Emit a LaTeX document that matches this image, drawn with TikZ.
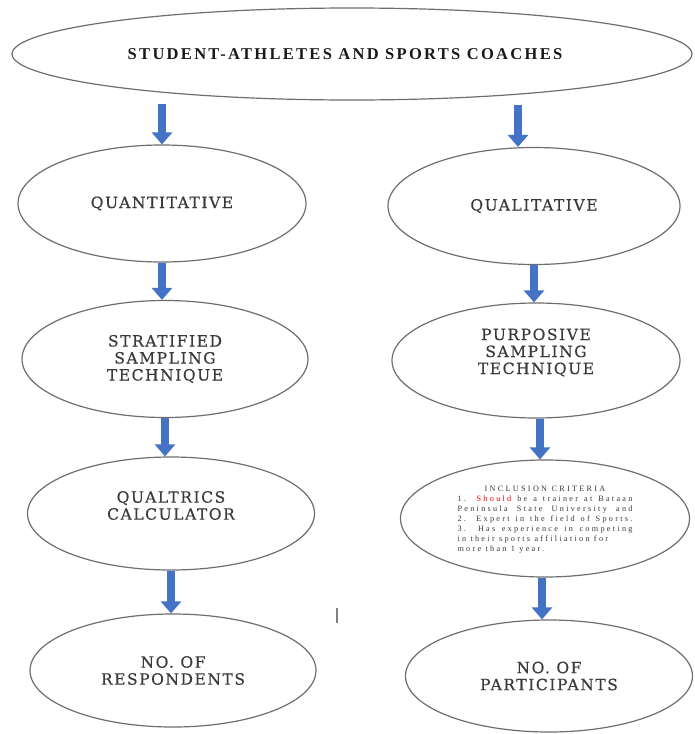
\documentclass[tikz,border=0pt]{standalone}
\usepackage{fontspec}
\setmainfont{DejaVu Serif}
\newfontfamily\topfont[LetterSpace=14,BoldFont={* Bold}]{Liberation Serif}
\newfontfamily\lblfont[LetterSpace=10,FakeBold=0.4]{DejaVu Serif}
\newfontfamily\incfont[LetterSpace=28]{Liberation Serif}
\usetikzlibrary{shapes.geometric,arrows.meta,calc}
\definecolor{arrowblue}{HTML}{4472C4}
\definecolor{edgegray}{HTML}{6E6E6E}
\definecolor{txtgray}{HTML}{3A3A3A}
\begin{document}
\begin{tikzpicture}[x=1pt,y=-1pt,
  oval/.style={ellipse, draw=edgegray, line width=1.2pt, inner sep=0pt},
  lbl/.style={font=\lblfont\fontsize{15.5}{17}\selectfont, text=txtgray, align=center, inner sep=0pt},
  toplbl/.style={font=\topfont\bfseries\fontsize{16.5}{18}\selectfont, text=black!90, inner sep=0pt},
  inclbl/.style={font=\incfont\fontsize{8.2}{10}\selectfont, text=txtgray, align=center, inner sep=0pt},
  blockarrow/.style={draw=arrowblue, line width=8pt, -{Triangle[width=20pt,length=12pt]}}
]
\fill[white] (0,0) rectangle (694,734);
\useasboundingbox (0,0) rectangle (694,734);

% ellipses
\node[oval, minimum width=680pt, minimum height=92pt] (top) at (352,54) {};
\node[toplbl] (topT) at ($(top.center)+(-7,0)$) {STUDENT-ATHLETES AND SPORTS COACHES};

\node[oval, minimum width=288pt, minimum height=117pt] (quant) at (162,203.5) {};
\node[lbl] (quantT) at (quant.center) {QUANTITATIVE};

\node[oval, minimum width=292pt, minimum height=117pt] (qual) at (534,206) {};
\node[lbl] (qualT) at (qual.center) {QUALITATIVE};

\node[oval, minimum width=286pt, minimum height=117pt] (strat) at (165,359) {};
\node[lbl] (stratT) at (strat.center) {STRATIFIED\\SAMPLING\\TECHNIQUE};

\node[oval, minimum width=288pt, minimum height=115pt] (purp) at (536,360.5) {};
\node[lbl] (purpT) at ($(purp.center)+(0,-8)$) {PURPOSIVE\\SAMPLING\\TECHNIQUE};

\node[oval, minimum width=287pt, minimum height=113pt] (qualt) at (171,513.5) {};
\node[lbl] (qualtT) at ($(qualt.center)+(0,-8)$) {QUALTRICS\\CALCULATOR};

\node[oval, minimum width=289pt, minimum height=117pt] (incl) at (545,518.5) {};
\node[inclbl] (inclT) at ($(incl.center)+(0,1)$) {%
\makebox[175pt][c]{INCLUSION CRITERIA}\\
\makebox[175pt][s]{1. {\color{red}Should} be a trainer at Bataan}\\
\makebox[175pt][s]{Peninsula State University and}\\
\makebox[175pt][s]{2. Expert in the field of Sports.}\\
\makebox[175pt][s]{3. Has experience in competing}\\
\makebox[175pt][l]{in their sports affiliation for}\\
\makebox[175pt][l]{more than 1 year.}};

\node[oval, minimum width=286pt, minimum height=113pt] (resp) at (173,670.5) {};
\node[lbl] (respT) at (resp.center) {NO. OF\\RESPONDENTS};

\node[oval, minimum width=287pt, minimum height=112pt] (part) at (549,676) {};
\node[lbl] (partT) at (part.center) {NO. OF\\PARTICIPANTS};

% stray cursor mark
\node[inner sep=0pt] (cursor) at (337,615) {\color{gray}\rule{1.3pt}{15pt}};

% arrows
\draw[blockarrow, shorten <=3pt] (quant.north |- top.south) -- (quant.north);
\draw[blockarrow, shorten <=4pt] ($(qual.north |- top.south)+(-16,0)$) -- ($(qual.north)+(-16,0)$);
\draw[blockarrow] (quant.south) -- (quant.south |- strat.north);
\draw[blockarrow] (qual.south) -- (qual.south |- purp.north);
\draw[blockarrow] (strat.south) -- (strat.south |- qualt.north);
\draw[blockarrow] ($(purp.south)+(4,0)$) -- ($(purp.south |- incl.north)+(4,0)$);
\draw[blockarrow] (qualt.south) -- (qualt.south |- resp.north);
\draw[blockarrow] ($(incl.south)+(-3,0)$) -- ($(incl.south |- part.north)+(-3,0)$);
\end{tikzpicture}
\end{document}
